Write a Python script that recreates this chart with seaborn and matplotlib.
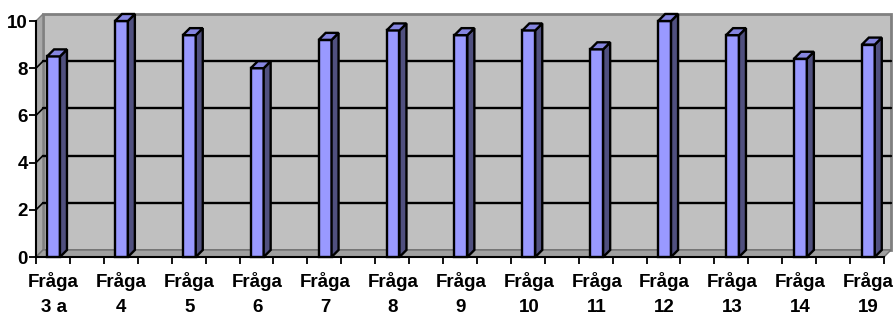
import matplotlib
matplotlib.use("Agg")
import matplotlib.pyplot as plt
from matplotlib.patches import Polygon
import numpy as np
import pandas as pd
import seaborn as sns

questions = ['Fråga\n3 a', 'Fråga\n4', 'Fråga\n5', 'Fråga\n6', 'Fråga\n7', 'Fråga\n8', 'Fråga\n9',
             'Fråga\n10', 'Fråga\n11', 'Fråga\n12', 'Fråga\n13', 'Fråga\n14', 'Fråga\n19']
scores = [8.5, 10.0, 9.4, 8.0, 9.2, 9.6, 9.4, 9.6, 8.8, 10.0, 9.4, 8.4, 9.0]
y_ticks = [0, 2, 4, 6, 8, 10]

sns.set_style('white')
plt.rcParams['font.family'] = ['Liberation Sans', 'DejaVu Sans']

df = pd.DataFrame({'question': questions, 'score': scores})

fig = plt.figure(figsize=(8.95, 3.15), dpi=100)
ax = fig.add_axes([36 / 895, 58 / 315, 848 / 895, 236 / 315])

front = '#9999FF'
side = '#50507F'
top = '#8585E0'

sns.barplot(data=df, x='question', y='score', color=front, width=0.19, saturation=1,
            edgecolor='black', linewidth=1.7, ax=ax, zorder=3)
bars = list(ax.patches)

# front plane limits, depth offset of the 3d box
x0, x1 = -0.258, 12.231
dx, dy = 0.103, 0.297
ax.set_xlim(x0, x1)
ax.set_ylim(0, 10)
ax.set_xlabel('')
ax.set_ylabel('')

# walls
back = Polygon([(x0 + dx, dy), (x1 + dx, dy), (x1 + dx, 10 + dy), (x0 + dx, 10 + dy)],
               closed=True, facecolor='#C0C0C0', edgecolor='#808080', lw=2, zorder=0.5, clip_on=False)
left = Polygon([(x0, 0), (x0, 10), (x0 + dx, 10 + dy), (x0 + dx, dy)],
               closed=True, facecolor='#A8A8A8', edgecolor='#808080', lw=1, zorder=0.6, clip_on=False)
floor = Polygon([(x0, 0), (x1, 0), (x1 + dx, dy), (x0 + dx, dy)],
                closed=True, facecolor='#A0A0A0', edgecolor='#707070', lw=1, zorder=0.6, clip_on=False)
for p in (back, left, floor):
    ax.add_patch(p)

for k in y_ticks[1:-1]:
    ax.plot([x0 + dx, x1 + dx], [k + dy, k + dy], color='black', lw=1.7, zorder=1, clip_on=False)
    ax.plot([x0, x0 + dx], [k, k + dy], color='black', lw=1.2, zorder=1, clip_on=False)

# side and top faces of the columns
for b in bars:
    x, w, h = b.get_x(), b.get_width(), b.get_height()
    b.set_clip_on(False)
    ax.add_patch(Polygon([(x + w, 0), (x + w, h), (x + w + dx, h + dy), (x + w + dx, dy)],
                         closed=True, facecolor=side, edgecolor='black', lw=1.7, zorder=3, clip_on=False))
    ax.add_patch(Polygon([(x, h), (x + w, h), (x + w + dx, h + dy), (x + dx, h + dy)],
                         closed=True, facecolor=top, edgecolor='black', lw=1.7, zorder=3, clip_on=False))

for s in ('top', 'right'):
    ax.spines[s].set_visible(False)
for s in ('left', 'bottom'):
    ax.spines[s].set_color('black')
    ax.spines[s].set_linewidth(1.5)
    ax.spines[s].set_zorder(2)

ax.set_yticks(y_ticks)
ax.tick_params(axis='y', direction='out', length=5, width=1.3, color='black', pad=1,
               labelsize=13.5, left=True)
ax.set_xticks(range(len(questions)))
ax.set_xticklabels(questions)
ax.tick_params(axis='x', which='major', length=0, pad=11, labelsize=13.5, bottom=True)
ax.set_xticks(np.linspace(x0, x1, 26), minor=True)
ax.tick_params(axis='x', which='minor', direction='out', length=5, width=1.3, color='black', bottom=True)
for lbl in ax.get_xticklabels() + ax.get_yticklabels():
    lbl.set_fontweight('bold')
    lbl.set_color('black')
for lbl in ax.get_xticklabels():
    lbl.set_linespacing(1.62)

fig.savefig('out.png', dpi=100)
